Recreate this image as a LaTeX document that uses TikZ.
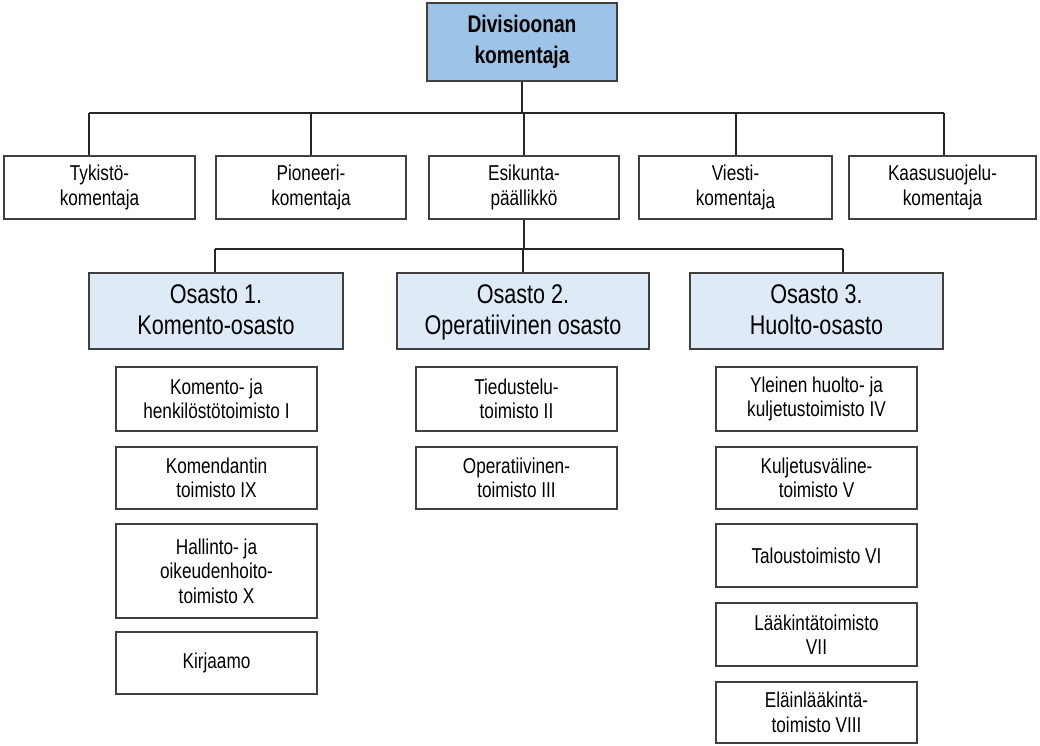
\documentclass[tikz,border=0pt]{standalone}
\usepackage{fontspec}
\setmainfont{Liberation Sans}[FakeStretch=0.8]
\definecolor{topblue}{HTML}{9DC3E6}
\definecolor{paleblue}{HTML}{DEEBF7}
\definecolor{edge}{HTML}{404040}
\tikzset{
  box/.style={draw=edge, line width=1.3pt, inner sep=0pt, align=center, fill=white,
    font=\fontsize{21.5}{24.5}\selectfont},
  topbox/.style={box, fill=topblue, font=\bfseries\fontsize{24}{31}\selectfont},
  osbox/.style={box, fill=paleblue, font=\fontsize{27}{31}\selectfont},
  link/.style={draw=black!85, line width=1.2pt},
}
\begin{document}
\begin{tikzpicture}[x=1pt,y=-1pt]
\useasboundingbox (0,0) rectangle (1040,745);
% top
\node[topbox, minimum width=190pt, minimum height=78pt] (top) at (522,42) {Divisioonan\\komentaja};
% row 2
\node[box, minimum width=191pt, minimum height=63pt] (tyk) at (99.5,187.5) {Tykistö-\\komentaja};
\node[box, minimum width=190pt, minimum height=63pt] (pio) at (311,187.5) {Pioneeri-\\komentaja};
\node[box, minimum width=190pt, minimum height=63pt] (esi) at (524,187.5) {Esikunta-\\päällikkö};
\node[box, minimum width=193pt, minimum height=63pt] (vie) at (735.5,187.5) {Viesti-\\komentaj\raisebox{-3pt}{a}};
\node[box, minimum width=187pt, minimum height=63pt] (kaa) at (942.5,187.5) {Kaasusuojelu-\\komentaja};
% osastot
\node[osbox, minimum width=254pt, minimum height=76pt, text depth=2pt] (os1) at (216,311) {Osasto 1.\\Komento-osasto};
\node[osbox, minimum width=252pt, minimum height=76pt, text depth=2pt] (os2) at (523,311) {Osasto 2.\\Operatiivinen osasto};
\node[osbox, minimum width=253pt, minimum height=76pt, text depth=2pt] (os3) at (816.5,311) {Osasto 3.\\Huolto-osasto};
% column 1
\node[box, minimum width=201pt, minimum height=64pt] (a1) at (216.5,399) {Komento- ja\\henkilöstötoimisto I};
\node[box, minimum width=201pt, minimum height=62pt] (a2) at (216.5,478) {Komendantin\\toimisto IX};
\node[box, minimum width=201pt, minimum height=94pt] (a3) at (216.5,571) {Hallinto- ja\\oikeudenhoito-\\toimisto X};
\node[box, minimum width=201pt, minimum height=62pt] (a4) at (216.5,663) {Kirjaamo};
% column 2
\node[box, minimum width=201pt, minimum height=64pt] (b1) at (516.5,399) {Tiedustelu-\\toimisto II};
\node[box, minimum width=201pt, minimum height=62pt] (b2) at (516.5,478) {Operatiivinen-\\toimisto III};
% column 3
\node[box, minimum width=201pt, minimum height=64pt] (c1) at (816.5,399) {Yleinen huolto- ja\\kuljetustoimisto IV};
\node[box, minimum width=201pt, minimum height=62pt] (c2) at (816.5,478) {Kuljetusväline-\\toimisto V};
\node[box, minimum width=201pt, minimum height=63pt] (c3) at (816.5,555.5) {Taloustoimisto VI};
\node[box, minimum width=201pt, minimum height=63pt] (c4) at (816.5,634.5) {Lääkintätoimisto\\VII};
\node[box, minimum width=201pt, minimum height=61pt] (c5) at (816.5,712.5) {Eläinlääkintä-\\toimisto VIII};
% bus 1
\coordinate (busL) at (89,113);
\coordinate (busR) at (944,113);
\coordinate (busP) at (311,113);
\coordinate (busV) at (736,113);
\draw[link] (top.south) -- (top.south |- busL);
\draw[link] (busL) -- (busR);
\draw[link] (busL) -- (busL |- tyk.north);
\draw[link] (busP) -- (busP |- pio.north);
\draw[link] (esi.north |- busL) -- (esi.north);
\draw[link] (busV) -- (busV |- vie.north);
\draw[link] (busR) -- (busR |- kaa.north);
% bus 2
\coordinate (bus2L) at (215,249);
\coordinate (bus2R) at (843,249);
\draw[link] (esi.south) -- (esi.south |- bus2L);
\draw[link] (bus2L) -- (bus2R);
\draw[link] (bus2L) -- (bus2L |- os1.north);
\draw[link] (os2.north |- bus2L) -- (os2.north);
\draw[link] (bus2R) -- (bus2R |- os3.north);
\end{tikzpicture}
\end{document}
